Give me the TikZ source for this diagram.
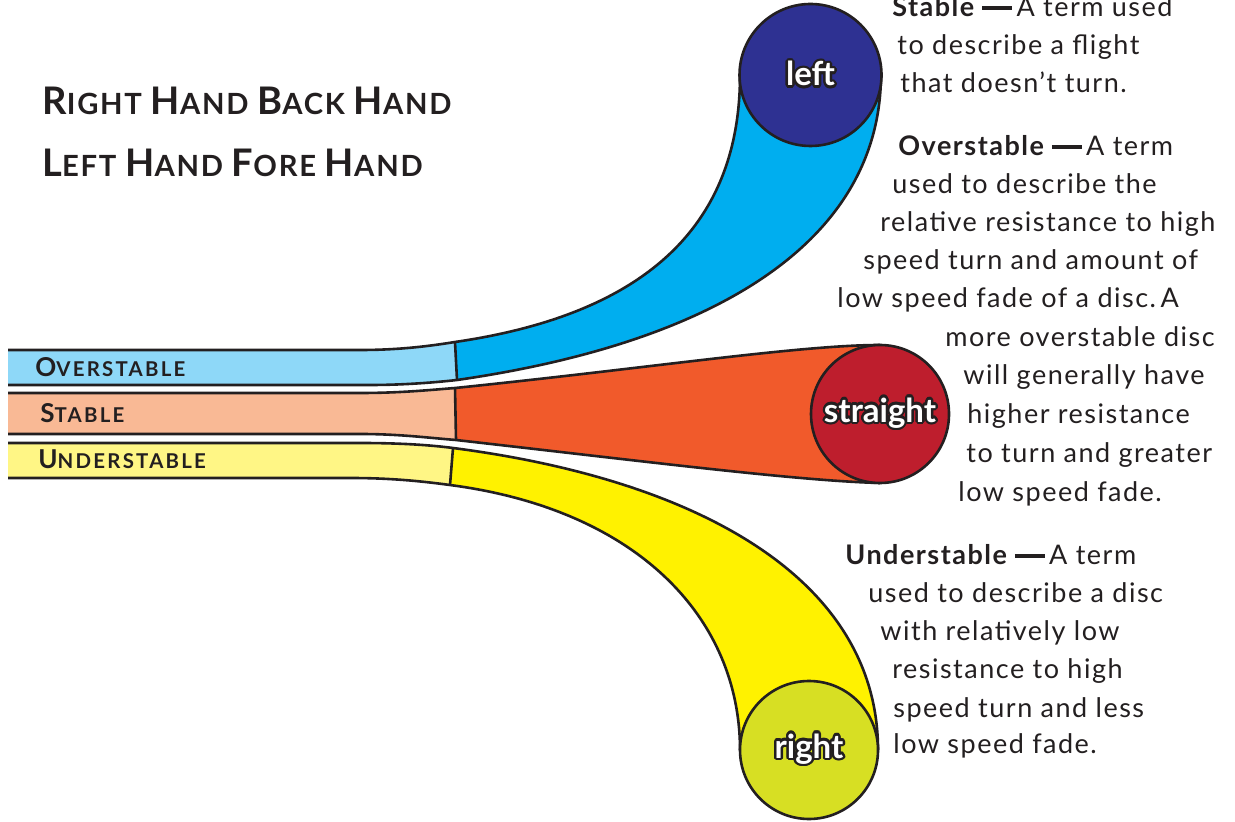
\documentclass[tikz,border=0pt]{standalone}
\usepackage{fontspec}
\setmainfont{Lato}
\newfontfamily\bodyfont[LetterSpace=5.5]{Lato}
\newfontfamily\headfont[LetterSpace=6]{Lato}
\newfontfamily\bandfont[LetterSpace=11]{Lato}
\usepackage{contour}
\contourlength{1.2pt}
\contournumber{16}

\definecolor{ink}{HTML}{231F20}
\definecolor{overlight}{HTML}{8ED8F8}
\definecolor{overdeep}{HTML}{00AEEF}
\definecolor{leftdisc}{HTML}{2E3192}
\definecolor{stablelight}{HTML}{F9B995}
\definecolor{stabledeep}{HTML}{F15A2B}
\definecolor{straightdisc}{HTML}{BE1E2D}
\definecolor{underlight}{HTML}{FFF685}
\definecolor{underdeep}{HTML}{FFF200}
\definecolor{rightdisc}{HTML}{D7DF23}

% fake small caps: a larger initial capital
\newcommand\titlecap[1]{{\fontsize{19}{19}\selectfont #1}}
\newcommand\bandcap[1]{{\fontsize{13}{13}\selectfont #1}}
% heavy dash after a defined term
\newcommand\termdash{ \rule[0.27em]{1.1em}{0.12em}\,}

\begin{document}
\begin{tikzpicture}[x=0.5pt,y=-0.5pt,
  edge/.style={draw=ink,line width=1.3pt},
  disc/.style={circle,draw=ink,line width=1.3pt,inner sep=0pt,text=white,
    font=\bfseries\fontsize{16.5}{16.5}\selectfont},
  body/.style={anchor=base west,inner sep=0pt,text=ink,
    font=\bodyfont\fontsize{13.5}{15}\selectfont},
  title/.style={anchor=base west,inner sep=0pt,text=ink,
    font=\headfont\bfseries\fontsize{14.6}{16}\selectfont},
  bandlabel/.style={anchor=base west,inner sep=0pt,text=ink,
    font=\bandfont\bfseries\fontsize{10.2}{11}\selectfont}]
\path[use as bounding box] (0,0) rectangle (1235,822);

% ---- overstable band, bending up to the left disc
\fill[overlight] (8,350) -- (360,350) .. controls (400,350) and (430,346) .. (455,342)
  -- (457,380) .. controls (430,383) and (400,385) .. (370,385) -- (8,385) -- cycle;
\fill[overdeep] (455,342) .. controls (640,315) and (740,230) .. (740,75)
  -- (881,75) .. controls (880,250) and (700,345) .. (457,380) -- cycle;
\draw[edge] (8,350) -- (360,350) .. controls (400,350) and (430,346) .. (455,342)
  .. controls (640,315) and (740,230) .. (740,75);
\draw[edge] (8,385) -- (370,385) .. controls (400,385) and (430,383) .. (457,380)
  .. controls (700,345) and (880,250) .. (881,75);
\draw[edge] (455,342) -- (457,380);
\node[disc,fill=leftdisc,minimum size=71pt] (leftdisc) at (810.5,75) {\contour{ink}{left}};

% ---- stable band, running straight on
\fill[stablelight] (8,393) -- (360,393) .. controls (400,393) and (430,390) .. (455,388)
  -- (456,440) .. controls (430,438) and (400,434) .. (360,434) -- (8,434) -- cycle;
\fill[stabledeep] (455,388) .. controls (650,368) and (800,345) .. (880,345)
  -- (880,483) .. controls (800,481) and (650,462) .. (456,440) -- cycle;
\draw[edge] (8,393) -- (360,393) .. controls (400,393) and (430,390) .. (455,388)
  .. controls (650,368) and (800,345) .. (880,345);
\draw[edge] (8,434) -- (360,434) .. controls (400,434) and (430,438) .. (456,440)
  .. controls (650,462) and (800,481) .. (880,483);
\draw[edge] (455,388) -- (456,440);
\node[disc,fill=straightdisc,minimum size=69pt] (straightdisc) at (880,414) {\contour{ink}{straight}};

% ---- understable band, bending down to the right disc
\fill[underlight] (8,443) -- (360,443) .. controls (400,443) and (430,445) .. (453,448)
  -- (450,485) .. controls (420,481) and (390,478) .. (350,478) -- (8,478) -- cycle;
\fill[underdeep] (453,448) .. controls (700,480) and (878,580) .. (878,750)
  -- (740,750) .. controls (740,620) and (640,510) .. (450,485) -- cycle;
\draw[edge] (8,443) -- (360,443) .. controls (400,443) and (430,445) .. (453,448)
  .. controls (700,480) and (878,580) .. (878,750);
\draw[edge] (8,478) -- (350,478) .. controls (390,478) and (420,481) .. (450,485)
  .. controls (640,510) and (740,620) .. (740,750);
\draw[edge] (453,448) -- (450,485);
\node[disc,fill=rightdisc,minimum size=69pt] (rightdisc) at (809,750) {\contour{ink}{right}};

% ---- band labels
\node[bandlabel] (lblover) at (35,377) {\bandcap{O}VERSTABLE};
\node[bandlabel] (lblstable) at (40,423) {\bandcap{S}TABLE};
\node[bandlabel] (lblunder) at (38,469) {\bandcap{U}NDERSTABLE};

% ---- headings
\node[title] (headA) at (42,115) {\titlecap{R}IGHT \titlecap{H}AND \titlecap{B}ACK \titlecap{H}AND};
\node[title] (headB) at (42,177) {\titlecap{L}EFT \titlecap{H}AND \titlecap{F}ORE \titlecap{H}AND};

% ---- definitions
\node[body] (s1) at (892,17) {\textbf{Stable\termdash}A term used};
\node[body] (s2) at (897,55) {to describe a flight};
\node[body] (s3) at (900,93) {that doesn’t turn.};

\node[body] (o1) at (898,156) {\textbf{Overstable\termdash}A term};
\node[body] (o2) at (892,194) {used to describe the};
\node[body] (o3) at (880,232) {relative resistance to high};
\node[body] (o4) at (863,270) {speed turn and amount of};
\node[body] (o5) at (837,308) {low speed fade of a disc.\,A};
\node[body] (o6) at (945,347) {more overstable disc};
\node[body] (o7) at (963,385) {will generally have};
\node[body] (o8) at (967,424) {higher resistance};
\node[body] (o9) at (966,463) {to turn and greater};
\node[body] (o10) at (958,502) {low speed fade.};

\node[body] (u1) at (845,565) {\textbf{Understable\termdash}A term};
\node[body] (u2) at (868,602) {used to describe a disc};
\node[body] (u3) at (880,640) {with relatively low};
\node[body] (u4) at (892,678) {resistance to high};
\node[body] (u5) at (893,717) {speed turn and less};
\node[body] (u6) at (893,753) {low speed fade.};
\end{tikzpicture}
\end{document}
